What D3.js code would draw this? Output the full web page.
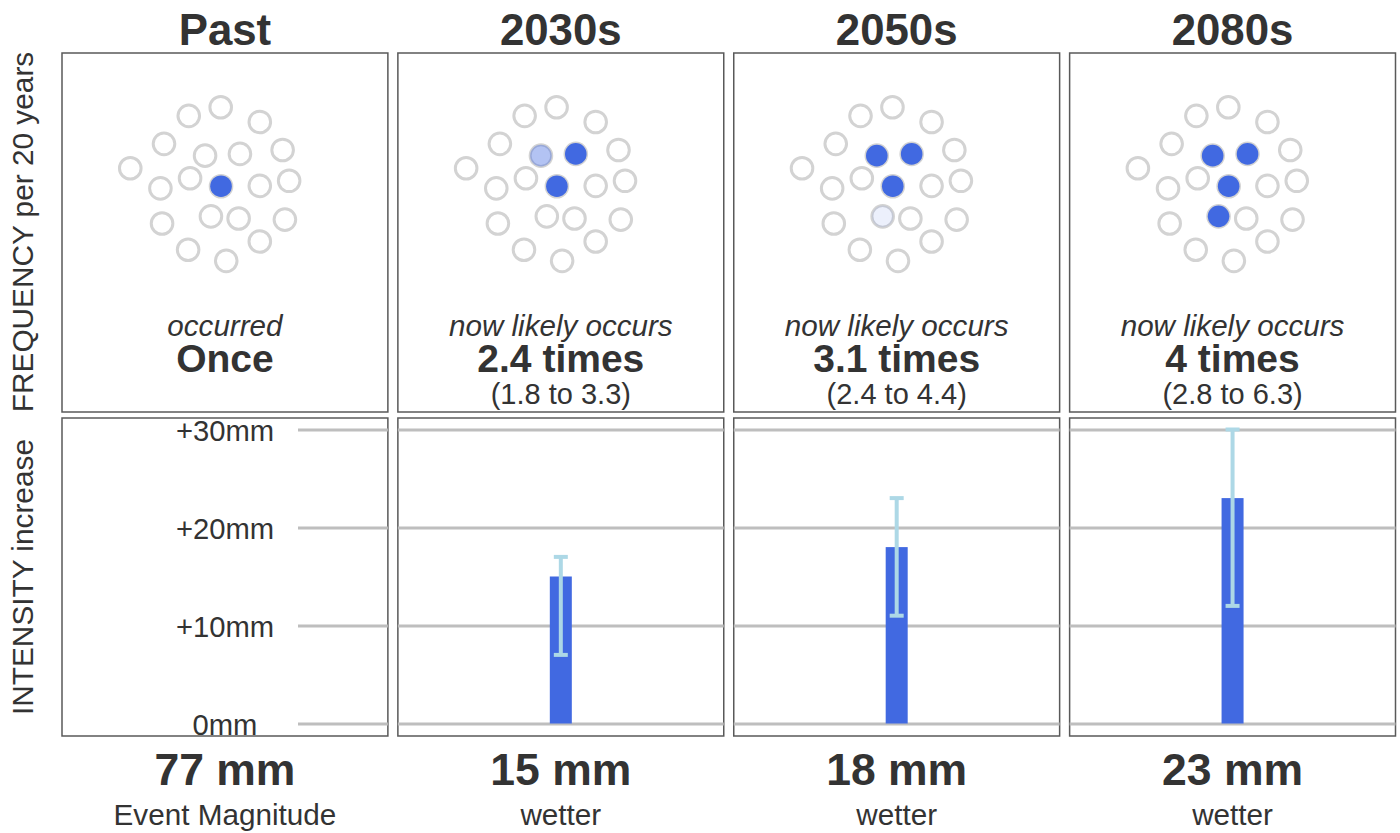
<!DOCTYPE html>
<html>
<head>
<meta charset="utf-8">
<script src="https://d3js.org/d3.v7.min.js"></script>
<style>
html, body { margin: 0; padding: 0; background: #fff; }
text { font-family: "Liberation Sans", Arial, sans-serif; fill: #333; }
</style>
</head>
<body>
<div class="container"></div>
<script>
const WIDTH = 1400;
const HEIGHT = 833;

// chart values
const periods = ["Past", "2030s", "2050s", "2080s"];
const frequency = [1, 2.4, 3.1, 4];
const freqIntro = ["occurred", "now likely occurs", "now likely occurs", "now likely occurs"];
const freqLabels = ["Once", "2.4 times", "3.1 times", "4 times"];
const freqRanges = ["", "(1.8 to 3.3)", "(2.4 to 4.4)", "(2.8 to 6.3)"];
const intensity = [null, 15, 18, 23];
const intensityLow = [null, 7, 11, 12];
const intensityHigh = [null, 17, 23, 30];
const intensityTicks = [0, 10, 20, 30];
const tickLabels = ["0mm", "+10mm", "+20mm", "+30mm"];
const amountLabels = ["77 mm", "15 mm", "18 mm", "23 mm"];
const amountNotes = ["Event Magnitude", "wetter", "wetter", "wetter"];

// the 20 dots (one per year), in percent of the panel; first ones listed fill first
const dotX = [48.8, 54.6, 43.9, 45.7, 20.95, 31.3, 38.9, 48.7, 60.7, 67.7, 69.7, 60.7, 39.3, 30.2, 30.7, 54.2, 68.4, 60.7, 50.4, 38.7];
const dotY = [37.1, 28.1, 28.6, 45.5, 32.1, 25.3, 17.5, 15.1, 19.2, 27.0, 35.6, 37.0, 34.9, 37.7, 47.5, 46.1, 46.4, 52.5, 57.9, 54.8];

const BLUE = "#4169e1";
const ERR = "#add8e6";
const GRID = "#bebebe";
const BORDER = "#595959";

const TOP_Y = 53, TOP_H = 359;
const BOT_Y = 418, BOT_H = 318;

var translate = function(x, y){
	return "translate(" + x + ", " + y + ")";
};

var svg = d3.select(".container").append("svg")
	.attr("width", WIDTH)
	.attr("height", HEIGHT)
	.style("display", "block");

var xBand = d3.scaleBand().domain(periods).range([62, 1395.5]).paddingInner(10 / 336);
var panelW = xBand.bandwidth();

var dotXScale = d3.scaleLinear().domain([0, 100]).range([0, panelW]);
var dotYScale = d3.scaleLinear().domain([0, 100]).range([0, TOP_H]);
var yScale = d3.scaleLinear().domain([0, 30]).range([723.5, 429.5]);

var dots = dotX.map(function(x, i){ return {x: x, y: dotY[i], order: i}; });

var label = function(sel, x, y, txt, size, weight, style){
	return sel.append("text")
		.attr("x", x)
		.attr("y", y)
		.attr("text-anchor", "middle")
		.style("font-size", size + "px")
		.style("font-weight", weight || "normal")
		.style("font-style", style || "normal")
		.text(txt);
};

// side labels
label(svg, 0, 0, "FREQUENCY per 20 years", 29.8).attr("transform", translate(33, 232) + " rotate(-90)");
label(svg, 0, 0, "INTENSITY increase", 29.8).attr("transform", translate(33, 577) + " rotate(-90)");

periods.forEach(function(period, i){
	var x0 = xBand(period);
	var cx = x0 + panelW / 2;

	label(svg, cx, 44.5, period, 43.8, "bold");

	// frequency panel
	var top = svg.append("g").attr("transform", translate(x0, TOP_Y));
	top.append("rect")
		.attr("width", panelW).attr("height", TOP_H)
		.attr("fill", "#fff").attr("stroke", BORDER).attr("stroke-width", 1.5);

	top.selectAll("circle.base").data(dots).enter().append("circle")
		.attr("class", "base")
		.attr("r", 10.8)
		.attr("cx", function(d){ return dotXScale(d.x); })
		.attr("cy", function(d){ return dotYScale(d.y); })
		.attr("fill", "#fff")
		.attr("stroke", "#d3d3d3")
		.attr("stroke-width", 3);

	top.selectAll("circle.fill").data(dots).enter().append("circle")
		.attr("class", "fill")
		.attr("r", 10.8)
		.attr("cx", function(d){ return dotXScale(d.x); })
		.attr("cy", function(d){ return dotYScale(d.y); })
		.attr("fill", BLUE)
		.attr("opacity", function(d){ return Math.max(0, Math.min(1, frequency[i] - d.order)); });

	label(svg, cx, 335.5, freqIntro[i], 29.6, "normal", "italic");
	label(svg, cx, 372, freqLabels[i], 39, "bold");
	label(svg, cx, 404, freqRanges[i], 29);

	// intensity panel
	var bot = svg.append("g");
	bot.append("rect")
		.attr("x", x0).attr("y", BOT_Y)
		.attr("width", panelW).attr("height", BOT_H)
		.attr("fill", "#fff").attr("stroke", BORDER).attr("stroke-width", 1.5);

	// first panel keeps the tick labels left of a shorter grid
	var gridStart = i === 0 ? x0 + 236 : x0;
	var axis = d3.axisLeft(yScale)
		.tickValues(intensityTicks)
		.tickSize(-(x0 + panelW - gridStart))
		.tickFormat(function(d){ return i === 0 ? tickLabels[intensityTicks.indexOf(d)] : ""; });

	var axisGroup = bot.append("g").attr("transform", translate(gridStart, 0)).call(axis);
	axisGroup.select(".domain").remove();
	axisGroup.selectAll(".tick line").attr("stroke", GRID).attr("stroke-width", 3);
	axisGroup.selectAll(".tick text")
		.attr("x", 225 - 298)
		.attr("dy", "0.37em")
		.attr("text-anchor", "middle")
		.attr("fill", "#333")
		.style("font-size", "29.2px");

	if (intensity[i] !== null) {
		bot.append("rect")
			.attr("x", cx - 11)
			.attr("y", yScale(intensity[i]))
			.attr("width", 22)
			.attr("height", yScale(0) - yScale(intensity[i]))
			.attr("fill", BLUE);
		bot.append("line")
			.attr("x1", cx).attr("x2", cx)
			.attr("y1", yScale(intensityLow[i])).attr("y2", yScale(intensityHigh[i]))
			.attr("stroke", ERR).attr("stroke-width", 4);
		[intensityLow[i], intensityHigh[i]].forEach(function(v){
			bot.append("line")
				.attr("x1", cx - 7).attr("x2", cx + 7)
				.attr("y1", yScale(v)).attr("y2", yScale(v))
				.attr("stroke", ERR).attr("stroke-width", 4);
		});
	}

	label(svg, cx, 785, amountLabels[i], 44.5, "bold");
	label(svg, cx, 825, amountNotes[i], 29.7);
});
</script>
</body>
</html>
